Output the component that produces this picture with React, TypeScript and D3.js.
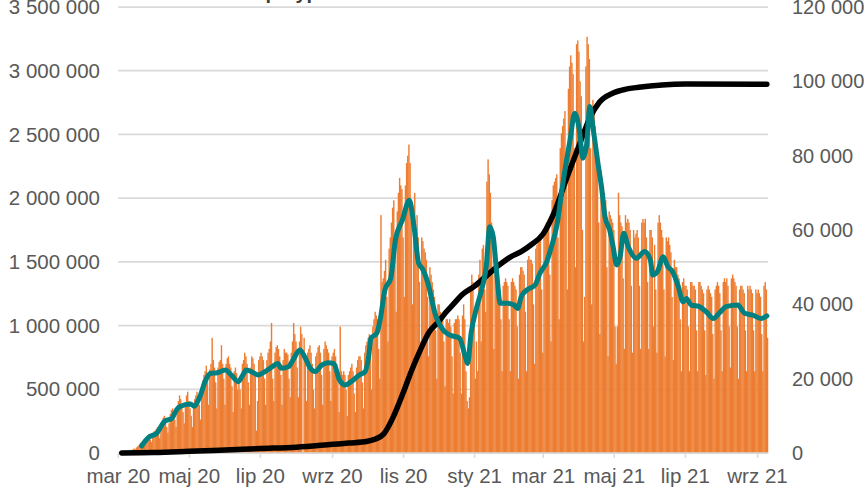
import * as d3 from 'd3';

// daily tests (thousands), right axis
const tests2020Mar = [0, 0, 0, 0.1, 0.2, 0.3, 0.3, 0.2, 0.4, 0.5, 0.6, 0.8, 1.0, 1.2, 1.0, 1.5, 1.8, 2.0, 2.5, 2.8, 2.4, 2.0, 3.0, 3.5, 4.0, 4.5, 4.2, 3.6, 3.0, 5.0, 5.8];
const tests2020Apr = [6.0, 6.5, 7.0, 5.5, 4.0, 7.5, 8.5, 9.5, 10.0, 9.0, 7.0, 5.5, 8.0, 10.5, 11.5, 12.0, 11.0, 9.0, 7.0, 12.5, 14.0, 15.5, 14.5, 13.0, 11.0, 8.0, 13.0, 15.5, 16.5, 14.0];
const tests2020May = [12.0, 10.0, 7.0, 13.0, 14.5, 15.5, 16.5, 15.0, 13.0, 9.0, 17.0, 19.5, 21.0, 22.0, 23.5, 20.0, 13.0, 22.5, 24.0, 31.0, 25.0, 23.0, 19.0, 12.0, 23.0, 24.5, 25.0, 29.0, 24.0, 20.0, 13.0];
const tests2020Jun = [24.0, 25.5, 26.0, 24.0, 23.0, 18.0, 11.0, 22.0, 23.0, 21.5, 17.0, 20.0, 17.0, 12.0, 24.0, 25.0, 27.0, 26.0, 24.0, 19.0, 13.0, 23.0, 26.0, 25.5, 24.0, 22.0, 6.0, 14.0, 25.0, 26.0];
const tests2020Jul = [27.0, 26.0, 25.0, 20.0, 13.0, 25.0, 27.0, 28.0, 30.0, 35.0, 20.0, 14.0, 27.0, 28.5, 29.0, 28.0, 26.0, 21.0, 13.0, 25.0, 28.0, 27.0, 27.0, 26.5, 20.0, 15.0, 27.0, 30.0, 35.0, 32.0, 30.0];
const tests2020Aug = [23.0, 15.0, 30.0, 34.0, 32.0, 0, 31.0, 24.0, 14.0, 27.0, 28.0, 29.0, 27.0, 24.0, 17.0, 12.0, 26.0, 27.0, 28.5, 29.0, 27.0, 21.0, 13.0, 28.0, 30.0, 29.0, 28.0, 27.0, 22.0, 14.0, 26.0];
const tests2020Sep = [27.0, 28.0, 26.0, 24.0, 19.0, 11.0, 34.0, 22.0, 21.0, 22.0, 21.0, 17.0, 10.0, 21.0, 22.0, 23.0, 24.0, 22.0, 16.0, 11.0, 23.0, 25.0, 26.0, 26.0, 25.0, 19.0, 12.0, 27.0, 29.0, 30.0];
const tests2020Oct = [31.0, 32.0, 26.0, 17.0, 34.0, 36.0, 38.0, 37.0, 36.0, 28.0, 20.0, 64.0, 46.0, 47.0, 49.0, 52.0, 42.0, 30.0, 55.0, 58.0, 62.0, 66.0, 68.0, 54.0, 38.0, 65.0, 70.0, 74.0, 72.0, 71.0, 58.0];
const tests2020Nov = [42.0, 72.0, 78.0, 80.0, 83.0, 78.0, 62.0, 40.0, 66.0, 70.0, 60.0, 64.0, 58.0, 46.0, 30.0, 58.0, 57.0, 55.0, 54.0, 52.0, 42.0, 26.0, 50.0, 48.0, 46.0, 44.0, 42.0, 33.0, 20.0, 40.0];
const tests2020Dec = [40.0, 38.0, 37.0, 36.0, 30.0, 18.0, 36.0, 36.0, 35.0, 36.0, 34.0, 26.0, 16.0, 35.0, 36.0, 36.0, 37.0, 36.0, 27.0, 16.0, 37.0, 40.0, 36.0, 22.0, 14.0, 12.0, 15.0, 45.0, 48.0, 46.0, 38.0];
const tests2021Jan = [20.0, 30.0, 22.0, 48.0, 52.0, 30.0, 55.0, 56.0, 44.0, 38.0, 73.0, 79.0, 75.0, 70.0, 62.0, 50.0, 28.0, 48.0, 47.0, 46.0, 45.0, 44.0, 36.0, 22.0, 45.0, 46.0, 47.0, 46.0, 45.0, 36.0, 22.0];
const tests2021Feb = [46.0, 47.0, 46.0, 45.0, 44.0, 34.0, 20.0, 48.0, 50.0, 50.0, 49.0, 48.0, 38.0, 22.0, 52.0, 53.0, 52.0, 52.0, 51.0, 40.0, 24.0, 55.0, 56.0, 57.0, 57.0, 58.0, 44.0, 27.0];
const tests2021Mar = [60.0, 61.0, 62.0, 62.0, 63.0, 48.0, 30.0, 68.0, 72.0, 73.0, 74.0, 75.0, 58.0, 36.0, 82.0, 86.0, 88.0, 90.0, 92.0, 72.0, 44.0, 98.0, 104.0, 107.0, 105.0, 102.0, 82.0, 50.0, 110.0, 111.0, 108.0];
const tests2021Apr = [100.0, 96.0, 60.0, 30.0, 42.0, 104.0, 112.0, 110.0, 106.0, 82.0, 40.0, 95.0, 92.0, 88.0, 85.0, 80.0, 62.0, 32.0, 76.0, 74.0, 72.0, 70.0, 68.0, 50.0, 26.0, 65.0, 64.0, 63.0, 62.0, 60.0];
const tests2021May = [34.0, 24.0, 34.0, 70.0, 64.0, 62.0, 61.0, 47.0, 28.0, 64.0, 62.0, 63.0, 62.0, 60.0, 45.0, 27.0, 60.0, 58.0, 59.0, 60.0, 58.0, 45.0, 28.0, 62.0, 63.0, 62.0, 63.0, 58.0, 46.0, 28.0, 60.0];
const tests2021Jun = [60.0, 58.0, 34.0, 56.0, 44.0, 27.0, 62.0, 64.0, 62.0, 60.0, 58.0, 44.0, 26.0, 58.0, 57.0, 58.0, 56.0, 54.0, 42.0, 25.0, 52.0, 50.0, 50.0, 48.0, 47.0, 36.0, 22.0, 46.0, 47.0, 45.0];
const tests2021Jul = [45.0, 44.0, 34.0, 22.0, 46.0, 46.0, 45.0, 45.0, 44.0, 33.0, 22.0, 46.0, 46.0, 45.0, 44.0, 43.0, 33.0, 21.0, 44.0, 45.0, 44.0, 43.0, 42.0, 32.0, 20.0, 44.0, 45.0, 46.0, 45.0, 43.0, 33.0];
const tests2021Aug = [22.0, 46.0, 47.0, 46.0, 47.0, 45.0, 34.0, 23.0, 47.0, 48.0, 47.0, 46.0, 45.0, 34.0, 20.0, 44.0, 45.0, 45.0, 44.0, 43.0, 33.0, 22.0, 45.0, 44.0, 45.0, 44.0, 43.0, 33.0, 22.0, 44.0, 43.0];
const tests2021Sep = [44.0, 43.0, 42.0, 32.0, 22.0, 45.0, 46.0, 44.0, 31.0];

const testsByMonth = [
  tests2020Mar, tests2020Apr, tests2020May, tests2020Jun, tests2020Jul, tests2020Aug,
  tests2020Sep, tests2020Oct, tests2020Nov, tests2020Dec, tests2021Jan, tests2021Feb,
  tests2021Mar, tests2021Apr, tests2021May, tests2021Jun, tests2021Jul, tests2021Aug, tests2021Sep,
];

// 7-day average of tests (thousands), right axis
const avgDates = [
  '2020-03-21', '2020-03-27', '2020-04-03', '2020-04-10', '2020-04-16', '2020-04-20', '2020-04-23', '2020-05-02',
  '2020-05-05', '2020-05-10', '2020-05-15', '2020-05-19', '2020-05-25', '2020-06-01', '2020-06-06', '2020-06-12',
  '2020-06-16', '2020-06-19', '2020-06-25', '2020-06-29', '2020-07-05', '2020-07-12', '2020-07-16', '2020-07-19',
  '2020-07-25', '2020-07-29', '2020-08-04', '2020-08-08', '2020-08-13', '2020-08-17', '2020-08-23', '2020-08-28',
  '2020-09-02', '2020-09-07', '2020-09-12', '2020-09-17', '2020-09-24', '2020-09-29', '2020-10-02', '2020-10-04',
  '2020-10-09', '2020-10-12', '2020-10-16', '2020-10-21', '2020-10-25', '2020-10-31', '2020-11-06', '2020-11-10',
  '2020-11-14', '2020-11-17', '2020-11-22', '2020-11-28', '2020-12-05', '2020-12-11', '2020-12-19', '2020-12-24',
  '2020-12-26', '2020-12-29', '2021-01-03', '2021-01-07', '2021-01-11', '2021-01-14', '2021-01-17', '2021-01-20',
  '2021-01-23', '2021-01-29', '2021-02-04', '2021-02-07', '2021-02-10', '2021-02-15', '2021-02-22', '2021-02-26',
  '2021-03-04', '2021-03-08', '2021-03-13', '2021-03-17', '2021-03-21', '2021-03-24', '2021-03-28', '2021-04-01',
  '2021-04-04', '2021-04-07', '2021-04-10', '2021-04-13', '2021-04-17', '2021-04-20', '2021-04-23', '2021-04-27',
  '2021-04-30', '2021-05-03', '2021-05-06', '2021-05-09', '2021-05-13', '2021-05-20', '2021-05-27', '2021-06-01',
  '2021-06-03', '2021-06-07', '2021-06-12', '2021-06-16', '2021-06-20', '2021-06-25', '2021-06-29', '2021-07-02',
  '2021-07-06', '2021-07-13', '2021-07-19', '2021-07-25', '2021-07-30', '2021-08-05', '2021-08-15', '2021-08-21',
  '2021-08-28', '2021-09-04', '2021-09-09',
];
const avgTests = [
  1.9, 4.2, 5.3, 8.6, 9.3, 11.6, 12.5, 13.2,
  12.6, 15.1, 19.6, 21.4, 21.6, 22.3, 21.0, 19.2,
  21.0, 22.3, 21.6, 21.0, 21.9, 23.4, 24.1, 22.8,
  23.2, 25.0, 27.7, 25.9, 22.8, 21.9, 23.7, 24.3,
  24.1, 19.6, 18.3, 19.2, 21.0, 21.9, 25.9, 30.9,
  32.2, 36.0, 43.9, 47.0, 57.3, 62.7, 68.0, 60.9,
  51.0, 49.7, 45.6, 37.6, 33.1, 31.7, 30.9, 25.9,
  24.1, 32.2, 39.4, 43.9, 50.1, 60.9, 58.2, 48.3,
  40.3, 40.3, 39.8, 38.9, 42.0, 43.9, 45.2, 48.3,
  51.5, 55.5, 61.8, 70.8, 78.8, 84.2, 91.4, 86.9,
  79.3, 82.4, 93.2, 86.9, 77.9, 71.6, 63.6, 60.0,
  55.5, 50.6, 52.8, 59.1, 55.5, 52.4, 54.2, 51.9,
  47.9, 48.8, 52.8, 50.1, 48.8, 44.8, 40.7, 41.6,
  39.8, 39.4, 38.0, 36.2, 37.6, 39.4, 39.8, 37.6,
  37.1, 36.2, 36.9,
];

// cumulative cases (millions), left axis
const totalDates = [
  '2020-03-04', '2020-04-01', '2020-05-01', '2020-06-01', '2020-07-01', '2020-08-01', '2020-09-01', '2020-09-15',
  '2020-10-01', '2020-10-08', '2020-10-15', '2020-10-23', '2020-11-01', '2020-11-08', '2020-11-15', '2020-11-23',
  '2020-12-01', '2020-12-07', '2020-12-14', '2020-12-21', '2021-01-01', '2021-01-10', '2021-01-20', '2021-02-01',
  '2021-02-10', '2021-02-18', '2021-03-01', '2021-03-10', '2021-03-22', '2021-04-01', '2021-04-10', '2021-04-18',
  '2021-04-30', '2021-05-11', '2021-05-22', '2021-06-11', '2021-07-01', '2021-09-09',
];
const totalCases = [
  0, 0.003, 0.013, 0.024, 0.035, 0.046, 0.068, 0.078,
  0.092, 0.11, 0.15, 0.28, 0.48, 0.65, 0.8, 0.95,
  1.03, 1.1, 1.17, 1.24, 1.31, 1.38, 1.46, 1.54,
  1.58, 1.63, 1.72, 1.88, 2.18, 2.42, 2.63, 2.75,
  2.825, 2.855, 2.87, 2.888, 2.895, 2.893,
];

const leftTicks = [0, 0.5, 1, 1.5, 2, 2.5, 3, 3.5];
const rightTicks = [0, 20, 40, 60, 80, 100, 120];
const xTickLabels = ['mar 20', 'maj 20', 'lip 20', 'wrz 20', 'lis 20', 'sty 21', 'mar 21', 'maj 21', 'lip 21', 'wrz 21'];

const parse = d3.timeParse('%Y-%m-%d');
const startDate = parse('2020-03-01') as Date;
const endDate = parse('2021-09-10') as Date;

const fmt = d3.formatLocale({ decimal: ',', thousands: ' ', grouping: [3], currency: ['', ''] }).format(',.0f');

const FONT = '"Liberation Sans", Arial, sans-serif';
const TEXT = '#595959';
const GRID = '#d9d9d9';

export default function App() {
  const width = 867;
  const height = 490;
  const plotLeft = 118.3;
  const plotRight = 768;
  const plotTop = 7;
  const plotBottom = 453;

  const x = d3.scaleTime().domain([startDate, endDate]).range([plotLeft, plotRight]);
  const yLeft = d3.scaleLinear().domain([0, 3.5]).range([plotBottom, plotTop]);
  const yRight = d3.scaleLinear().domain([0, 120]).range([plotBottom, plotTop]);

  const daily = testsByMonth.flat().map((v, i) => ({ date: d3.timeDay.offset(startDate, i), value: v }));
  const avg = avgDates.map((d, i) => ({ date: parse(d) as Date, value: avgTests[i] }));
  const total = totalDates.map((d, i) => ({ date: parse(d) as Date, value: totalCases[i] }));

  const avgLine = d3
    .line<{ date: Date; value: number }>()
    .x((d) => x(d.date))
    .y((d) => yRight(d.value))
    .curve(d3.curveMonotoneX);
  const totalLine = d3
    .line<{ date: Date; value: number }>()
    .x((d) => x(d.date))
    .y((d) => yLeft(d.value))
    .curve(d3.curveMonotoneX);

  const xTicks = d3.timeMonth.every(2)!.range(startDate, endDate);

  return (
    <svg
      width={width}
      height={height}
      style={{ position: 'absolute', left: 0, top: 0, background: '#fff' }}
      fontFamily={FONT}
    >
      {/* chart title, cut off by the top edge as in the source image */}
      <text x={381} y={-1.5} textAnchor="end" fontSize={20} fontWeight="bold" fill="#404040">
        Liczba testów i przypadków
      </text>

      {leftTicks.map((t) => (
        <line key={'g' + t} x1={plotLeft} x2={plotRight} y1={yLeft(t)} y2={yLeft(t)} stroke={GRID} strokeWidth={1.75} />
      ))}

      {daily.map((d, i) => {
        const x0 = x(d.date);
        const x1 = x(d3.timeDay.offset(d.date, 1));
        return (
          <rect
            key={'b' + i}
            x={x0}
            width={x1 - x0 + 0.25}
            y={yRight(d.value)}
            height={plotBottom - yRight(d.value)}
            fill="#ED7D31"
          />
        );
      })}

      <line x1={plotLeft} x2={plotRight} y1={plotBottom} y2={plotBottom} stroke={GRID} strokeWidth={1.5} />
      {xTicks.map((t, i) => (
        <g key={'xt' + i}>
          <line x1={x(t)} x2={x(t)} y1={plotBottom} y2={plotBottom + 5} stroke={GRID} strokeWidth={1.5} />
          <text x={x(t)} y={482.5} textAnchor="middle" fontSize={20.5} fill={TEXT}>
            {xTickLabels[i]}
          </text>
        </g>
      ))}

      <path d={totalLine(total) || ''} fill="none" stroke="#000" strokeWidth={5.5} strokeLinejoin="round" strokeLinecap="round" />
      <path d={avgLine(avg) || ''} fill="none" stroke="#008080" strokeWidth={5} strokeLinejoin="round" strokeLinecap="round" />

      {leftTicks.map((t) => (
        <text key={'l' + t} x={100} y={yLeft(t)} dy="0.35em" textAnchor="end" fontSize={20.5} fill={TEXT}>
          {fmt(t * 1e6)}
        </text>
      ))}
      {rightTicks.map((t) => (
        <text key={'r' + t} x={792} y={yRight(t)} dy="0.35em" textAnchor="start" fontSize={20} fill={TEXT}>
          {fmt(t * 1000)}
        </text>
      ))}
    </svg>
  );
}
